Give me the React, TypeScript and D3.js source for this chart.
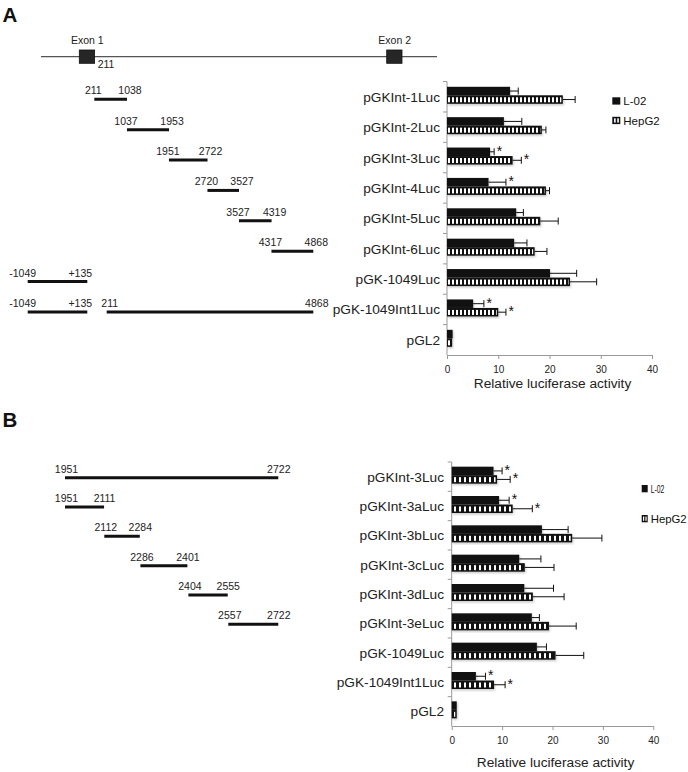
import React, { useEffect, useRef } from 'react';
import * as d3 from 'd3';

const FONT = "'Liberation Sans', Arial, Helvetica, sans-serif";

// ---- panel A data ----
const catsA = [
  'pGKInt-1Luc',
  'pGKInt-2Luc',
  'pGKInt-3Luc',
  'pGKInt-4Luc',
  'pGKInt-5Luc',
  'pGKInt-6Luc',
  'pGK-1049Luc',
  'pGK-1049Int1Luc',
  'pGL2',
];
const l02A = [12.3, 11.1, 8.4, 8.1, 13.5, 13.1, 20.1, 5.1, 1.1];
const l02ErrA = [1.6, 3.5, 0.8, 3.4, 1.4, 2.5, 5.2, 2.1, 0];
const hepA = [22.6, 18.5, 12.8, 19.3, 18.2, 17.1, 24.0, 10.0, 1.0];
const hepErrA = [2.4, 0.8, 1.7, 0.7, 3.5, 2.4, 5.2, 1.5, 0];
const l02StarA = [false, false, true, true, false, false, false, true, false];
const hepStarA = [false, false, true, false, false, false, false, true, false];
// construct fragments (bp), one list per row
const fragsA: number[][][] = [
  [[211, 1038]],
  [[1037, 1953]],
  [[1951, 2722]],
  [[2720, 3527]],
  [[3527, 4319]],
  [[4317, 4868]],
  [[-1049, 135]],
  [[-1049, 135], [211, 4868]],
  [],
];

// ---- panel B data ----
const catsB = [
  'pGKInt-3Luc',
  'pGKInt-3aLuc',
  'pGKInt-3bLuc',
  'pGKInt-3cLuc',
  'pGKInt-3dLuc',
  'pGKInt-3eLuc',
  'pGK-1049Luc',
  'pGK-1049Int1Luc',
  'pGL2',
];
const l02B = [8.3, 9.4, 17.9, 13.4, 14.4, 15.9, 16.9, 4.8, 1.0];
const l02ErrB = [1.7, 2.0, 5.2, 4.3, 5.8, 1.5, 1.9, 1.9, 0];
const hepB = [9.0, 12.1, 23.9, 14.5, 16.1, 19.3, 20.6, 8.4, 1.0];
const hepErrB = [2.6, 3.9, 5.9, 5.8, 6.2, 5.4, 5.6, 2.2, 0];
const l02StarB = [true, true, false, false, false, false, false, true, false];
const hepStarB = [true, true, false, false, false, false, false, true, false];
const fragsB: number[][][] = [
  [[1951, 2722]],
  [[1951, 2111]],
  [[2112, 2284]],
  [[2286, 2401]],
  [[2404, 2555]],
  [[2557, 2722]],
  [],
  [],
  [],
];

const xTicks = [0, 10, 20, 30, 40];
const seriesNames = ['L-02', 'HepG2'];

function fmtPos(v: number, seg: number[]) {
  if (v < 0) return String(v);
  return seg[0] < 0 ? '+' + v : String(v);
}

function drawPanel(svg: any, p: any) {
  const x = d3.scaleLinear().domain([0, 40]).range(p.xRange);
  const y = d3.scaleBand<string>().domain(p.cats).range(p.yRange);
  const bw = y.bandwidth();
  const g = svg.append('g');

  // stripe pattern for HepG2
  const pat = svg
    .select('defs')
    .append('pattern')
    .attr('id', p.id + '-stripe')
    .attr('patternUnits', 'userSpaceOnUse')
    .attr('x', Math.round(x(0)))
    .attr('width', p.period)
    .attr('height', 4);
  pat.append('rect').attr('width', p.period).attr('height', 4).attr('fill', '#111');
  pat
    .append('rect')
    .attr('x', p.whiteAt)
    .attr('width', 2)
    .attr('height', 4)
    .attr('fill', '#fff');

  // y axis with ticks at band edges
  g.append('line')
    .attr('x1', x(0))
    .attr('x2', x(0))
    .attr('y1', p.yRange[0])
    .attr('y2', p.yRange[1])
    .attr('stroke', '#999');
  d3.range(p.cats.length).forEach((i) => {
    const yy = p.yRange[0] + i * bw;
    g.append('line')
      .attr('x1', x(0) - 4)
      .attr('x2', x(0))
      .attr('y1', yy)
      .attr('y2', yy)
      .attr('stroke', '#999');
  });

  // x axis
  const xa = g
    .append('g')
    .attr('transform', `translate(0,${p.yRange[1]})`)
    .call(d3.axisBottom(x).tickValues(xTicks).tickSize(4).tickSizeOuter(0).tickPadding(7));
  xa.select('.domain').attr('stroke', '#999');
  xa.selectAll('.tick line').attr('stroke', '#999');
  xa.selectAll('.tick text')
    .attr('font-family', FONT)
    .attr('font-size', 10)
    .attr('fill', '#222');
  g.append('text')
    .attr('x', (p.xRange[0] + p.xRange[1]) / 2 + 3)
    .attr('y', p.titleY)
    .attr('text-anchor', 'middle')
    .attr('font-family', FONT)
    .attr('font-size', 13.7)
    .attr('fill', '#222')
    .text('Relative luciferase activity');

  // category labels
  p.cats.forEach((c: string) => {
    g.append('text')
      .attr('x', p.labelX)
      .attr('y', y(c)! + bw / 2 + 5)
      .attr('text-anchor', 'end')
      .attr('font-family', FONT)
      .attr('font-size', 13.7)
      .attr('fill', '#222')
      .text(c);
  });

  const bh = 8.5;
  const series = [
    { vals: p.l02, errs: p.l02Err, stars: p.l02Star, off: -bh, hep: false },
    { vals: p.hep, errs: p.hepErr, stars: p.hepStar, off: 0, hep: true },
  ];
  series.forEach((s) => {
    p.cats.forEach((c: string, i: number) => {
      const cy = y(c)! + bw / 2 - 1.5;
      const top = cy + s.off;
      const w = x(s.vals[i]) - x(0);
      g.append('rect')
        .attr('x', x(0) + 1)
        .attr('y', top + 1.5)
        .attr('width', w)
        .attr('height', bh)
        .attr('fill', '#888')
        .attr('opacity', 0.45)
        .attr('filter', 'url(#soft)');
      g.append('rect')
        .attr('x', x(0))
        .attr('y', top)
        .attr('width', w)
        .attr('height', bh)
        .attr('fill', '#111');
      if (s.hep) {
        g.append('rect')
          .attr('x', x(0) + 1)
          .attr('y', top + 2)
          .attr('width', Math.max(0, w - 2.5))
          .attr('height', bh - 3.5)
          .attr('fill', `url(#${p.id}-stripe)`);
      }
      const my = top + bh / 2;
      const e = s.errs[i];
      if (e > 0) {
        g.append('line')
          .attr('x1', x(s.vals[i]))
          .attr('x2', x(s.vals[i] + e))
          .attr('y1', my)
          .attr('y2', my)
          .attr('stroke', '#111');
        g.append('line')
          .attr('x1', x(s.vals[i] + e))
          .attr('x2', x(s.vals[i] + e))
          .attr('y1', my - 3.5)
          .attr('y2', my + 3.5)
          .attr('stroke', '#111');
      }
      if (s.stars[i]) {
        g.append('text')
          .attr('x', x(s.vals[i] + e) + 2.5)
          .attr('y', my + 4)
          .attr('font-family', FONT)
          .attr('font-size', 14)
          .attr('fill', '#111')
          .text('*');
      }
    });
  });

  // legend
  const L = p.legend;
  seriesNames.forEach((name, i) => {
    const ly = L.ys[i];
    g.append('rect')
      .attr('x', L.x)
      .attr('y', ly)
      .attr('width', L.w)
      .attr('height', L.h)
      .attr('fill', '#111');
    if (i === 1) {
      [0.22, 0.62].forEach((f) => {
        g.append('rect')
          .attr('x', L.x + L.w * f)
          .attr('y', ly + 1.5)
          .attr('width', L.w * 0.2)
          .attr('height', L.h - 3)
          .attr('fill', '#fff');
      });
    }
    const t = g
      .append('text')
      .attr('x', L.tx)
      .attr('y', ly + L.h + 0.5)
      .attr('font-family', FONT)
      .attr('font-size', 11.5)
      .attr('fill', '#111')
      .text(name);
    if (L.lens) t.attr('textLength', L.lens[i]).attr('lengthAdjust', 'spacingAndGlyphs');
  });

  // construct fragments
  p.frags.forEach((row: number[][], i: number) => {
    const fy = y(p.cats[i])! + bw / 2 + p.fragOff;
    row.forEach((seg) => {
      const [sc, shL, shR] = p.pickScale(seg);
      const x1 = sc(seg[0]);
      const x2 = sc(seg[1]);
      g.append('line')
        .attr('x1', x1)
        .attr('x2', x2)
        .attr('y1', fy)
        .attr('y2', fy)
        .attr('stroke', '#111')
        .attr('stroke-width', 3);
      [
        [x1 + shL, seg[0]],
        [x2 + shR, seg[1]],
      ].forEach(([lx, v]) => {
        g.append('text')
          .attr('x', lx)
          .attr('y', fy - 5)
          .attr('text-anchor', 'middle')
          .attr('font-family', FONT)
          .attr('font-size', 10.5)
          .attr('fill', '#222')
          .text(fmtPos(v, seg));
      });
    });
  });
}

export default function App() {
  const ref = useRef<SVGSVGElement | null>(null);

  useEffect(() => {
    if (!ref.current) return;
    const svg = d3.select(ref.current);
    svg.selectAll('*').remove();
    const defs = svg.append('defs');
    defs
      .append('filter')
      .attr('id', 'soft')
      .append('feGaussianBlur')
      .attr('stdDeviation', 0.8);

    svg.append('rect').attr('width', 688).attr('height', 772).attr('fill', '#fff');

    // panel letters
    [
      ['A', 21.7],
      ['B', 426.7],
    ].forEach(([t, yy]) => {
      svg
        .append('text')
        .attr('x', 2.5)
        .attr('y', yy)
        .attr('font-family', FONT)
        .attr('font-weight', 'bold')
        .attr('font-size', 20.5)
        .attr('fill', '#111')
        .text(t as string);
    });

    // gene structure (schematic)
    const gene = svg.append('g');
    gene
      .append('line')
      .attr('x1', 41)
      .attr('x2', 437)
      .attr('y1', 56.7)
      .attr('y2', 56.7)
      .attr('stroke', '#555')
      .attr('stroke-width', 1.3);
    [
      ['Exon 1', 79.3],
      ['Exon 2', 386.7],
    ].forEach(([name, ex]) => {
      gene
        .append('rect')
        .attr('x', ex as number)
        .attr('y', 50)
        .attr('width', 15.3)
        .attr('height', 13.3)
        .attr('fill', '#262626')
        .attr('stroke', '#111')
        .attr('stroke-width', 0.8);
      gene
        .append('text')
        .attr('x', (ex as number) + 8)
        .attr('y', 44)
        .attr('text-anchor', 'middle')
        .attr('font-family', FONT)
        .attr('font-size', 10.5)
        .attr('fill', '#222')
        .text(name as string);
    });
    gene
      .append('text')
      .attr('x', 97.7)
      .attr('y', 68.3)
      .attr('font-family', FONT)
      .attr('font-size', 10.5)
      .attr('fill', '#222')
      .text('211');

    // schematic scales for the construct maps
    const staggerA = d3
      .scaleLinear()
      .domain([211, 1037.5, 1952, 2721, 3527, 4318, 4868])
      .range([94.3, 127, 169, 207.5, 239, 271.5, 313.3]);
    const promoterA = d3.scaleLinear().domain([-1049, 135]).range([27.7, 87.3]);
    const intronA = d3.scaleLinear().domain([211, 4868]).range([106.7, 313.3]);
    const staggerB = d3
      .scaleLinear()
      .domain([1951, 2111.5, 2285, 2402.5, 2556, 2722])
      .range([65, 104.2, 140, 188, 228, 278.3]);

    drawPanel(svg, {
      id: 'pa',
      cats: catsA,
      l02: l02A,
      l02Err: l02ErrA,
      hep: hepA,
      hepErr: hepErrA,
      l02Star: l02StarA,
      hepStar: hepStarA,
      xRange: [447, 652],
      yRange: [81.6, 355],
      titleY: 388.3,
      labelX: 440,
      period: 4,
      whiteAt: 1,
      legend: { x: 612.3, w: 8, h: 7.3, tx: 623.3, ys: [97.3, 116.8] },
      frags: fragsA,
      fragOff: 2.5,
      pickScale: (seg: number[]) =>
        seg[0] < 0
          ? [promoterA, -5, -7]
          : seg[1] - seg[0] > 2000
            ? [intronA, 3, 3.5]
            : [staggerA, -1, 3],
    });

    drawPanel(svg, {
      id: 'pb',
      cats: catsB,
      l02: l02B,
      l02Err: l02ErrB,
      hep: hepB,
      hepErr: hepErrB,
      l02Star: l02StarB,
      hepStar: hepStarB,
      xRange: [451.7, 653.3],
      yRange: [462, 726],
      titleY: 766.5,
      labelX: 444,
      period: 5,
      whiteAt: 2,
      legend: { x: 641.7, w: 6, h: 7.3, tx: 650.7, ys: [485, 515], lens: [13.7, 36] },
      frags: fragsB,
      fragOff: 1,
      pickScale: () => [staggerB, 1.5, 0.5],
    });
  }, []);

  return (
    <svg
      ref={ref}
      width={688}
      height={772}
      style={{ position: 'absolute', left: 0, top: 0 }}
    />
  );
}
